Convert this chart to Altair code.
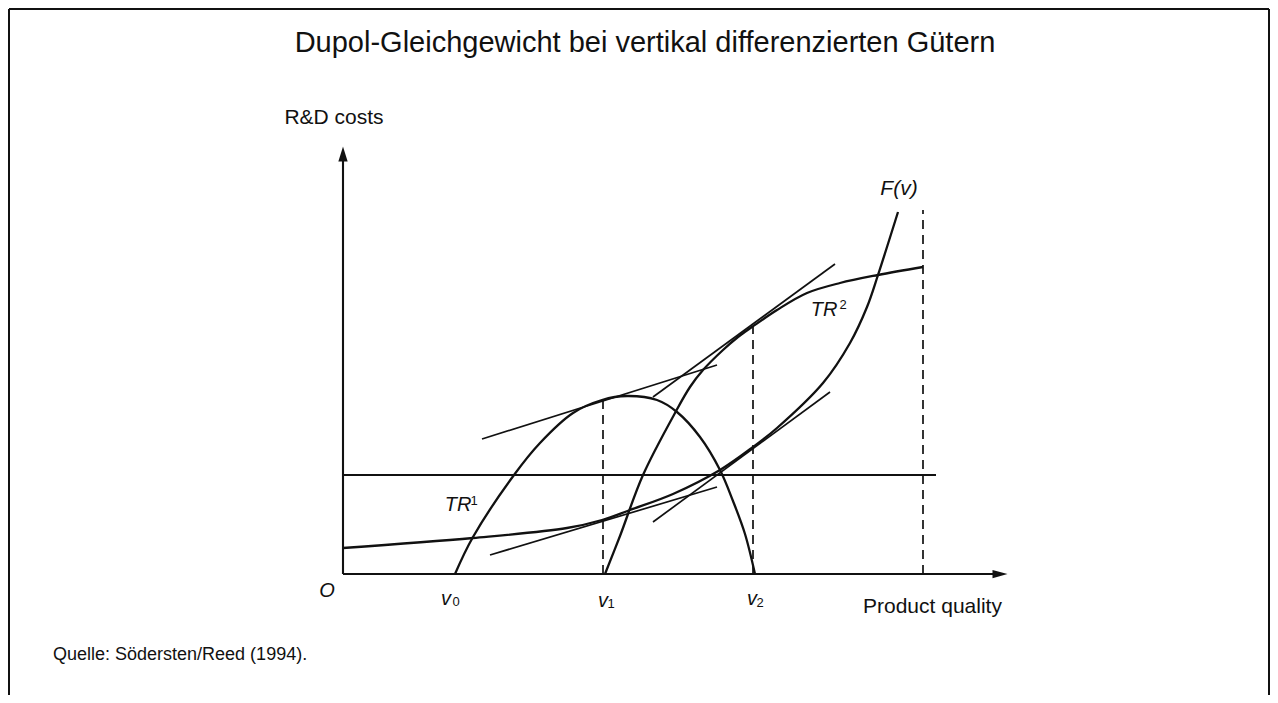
import altair as alt
import pandas as pd

FONT = "Liberation Sans"
INK = "#111111"

# ---- curves (quality, value) ----
tr1_q = [112, 130, 171, 197, 230, 259, 284, 314, 334, 357, 377, 390, 402, 412]
tr1_v = [0, 37, 99, 131, 161, 174, 178, 174, 162, 137, 104, 73, 40, 0]

tr2_q = [262, 277, 300, 332, 347, 360, 380, 395, 409, 434, 464, 497, 535, 580]
tr2_v = [0, 38, 99, 161, 187, 204, 224, 237, 247, 264, 281, 291, 299, 307]

f_q = [0, 130, 224, 259, 287, 330, 377, 410, 434, 480, 507, 524, 535, 555]
f_v = [26, 36, 46, 54, 64, 80, 104, 127, 146, 191, 231, 267, 299, 362]

# tangent lines: start (q, v), end (q, v)
tan_q1 = [139, 310, 147, 310]
tan_v1 = [135, 177, 19, 52]
tan_q2 = [374, 492, 374, 487]
tan_v2 = [209, 310, 87, 182]

# horizontal line level and extent
h_level = 99
h_end = 593

# dashed verticals: quality, top
dash_q = [260, 410, 580]
dash_top = [174, 247, 364]

# axes extents
x_axis_end = 650
y_axis_end = 420

# view extent in data units
X_MIN, X_MAX = -335, 927
Y_MIN, Y_MAX = -121, 566

xs = alt.Scale(domain=[X_MIN, X_MAX], nice=False, zero=False)
ys = alt.Scale(domain=[Y_MIN, Y_MAX], nice=False, zero=False)


def enc_xy(chart, x="x", y="y"):
    return chart.encode(
        x=alt.X(f"{x}:Q", scale=xs, axis=None),
        y=alt.Y(f"{y}:Q", scale=ys, axis=None),
    )


curves = pd.concat([
    pd.DataFrame({"x": tr1_q, "y": tr1_v, "id": "TR1"}),
    pd.DataFrame({"x": tr2_q, "y": tr2_v, "id": "TR2"}),
    pd.DataFrame({"x": f_q, "y": f_v, "id": "F"}),
])
curve_layer = enc_xy(alt.Chart(curves).mark_line(
    interpolate="catmull-rom", color=INK, strokeWidth=2.3)).encode(detail="id:N")

tangents = pd.DataFrame({"x": tan_q1, "y": tan_v1, "x2": tan_q2, "y2": tan_v2})
tan_layer = enc_xy(alt.Chart(tangents).mark_rule(color=INK, strokeWidth=1.7)).encode(
    x2="x2:Q", y2="y2:Q")

solid = pd.DataFrame({
    "x": [0, 0, 0],
    "y": [h_level, 0, 0],
    "x2": [h_end, x_axis_end, 0],
    "y2": [h_level, 0, y_axis_end],
})
solid_layer = enc_xy(alt.Chart(solid).mark_rule(color=INK, strokeWidth=2.1)).encode(
    x2="x2:Q", y2="y2:Q")

dashed = pd.DataFrame({"x": dash_q, "y": [0, 0, 0], "y2": dash_top})
dash_layer = enc_xy(alt.Chart(dashed).mark_rule(
    color=INK, strokeWidth=1.7, strokeDash=[9, 6])).encode(y2="y2:Q")

frame = pd.DataFrame({
    "x": [X_MIN + 1, X_MIN + 1, X_MAX - 1],
    "y": [Y_MIN, Y_MAX - 1, Y_MIN],
    "x2": [X_MIN + 1, X_MAX - 1, X_MAX - 1],
    "y2": [Y_MAX - 1, Y_MAX - 1, Y_MAX - 1],
})
frame_layer = enc_xy(alt.Chart(frame).mark_rule(color=INK, strokeWidth=2)).encode(
    x2="x2:Q", y2="y2:Q")

arrow_up = enc_xy(alt.Chart(pd.DataFrame({"x": [0], "y": [y_axis_end]})).mark_point(
    shape="M0,-1L0.62,1L-0.62,1Z", size=225, filled=True, color=INK, opacity=1))
arrow_right = enc_xy(alt.Chart(pd.DataFrame({"x": [x_axis_end + 7], "y": [0]})).mark_point(
    shape="M1,0L-1,-0.55L-1,0.55Z", size=225, filled=True, color=INK, opacity=1))


def text_layer(rows, size, italic=False, align="center"):
    df = pd.DataFrame(rows, columns=["x", "y", "t"])
    return enc_xy(alt.Chart(df).mark_text(
        font=FONT, fontSize=size, fontStyle="italic" if italic else "normal",
        align=align, baseline="middle", color=INK)).encode(text="t:N")


title_text = "Dupol-Gleichgewicht bei vertikal differenzierten Gütern"
source_text = "Quelle: Södersten/Reed (1994)."

labels = [
    text_layer([(302, 531, title_text)], 29),
    text_layer([(-9, 456, "R&D costs")], 21),
    text_layer([(520, -33, "Product quality")], 21, align="left"),
    text_layer([(-290, -81, source_text)], 18, align="left"),
    text_layer([(-16, -17, "O"), (103, -25, "v"), (260, -27, "v"), (409, -25, "v")], 20, italic=True),
    text_layer([(113, -28, "0"), (268, -30, "1"), (417, -29, "2")], 13),
    text_layer([(115, 69, "TR"), (481, 264, "TR")], 20, italic=True),
    text_layer([(131, 73, "1"), (500, 269, "2")], 13),
    text_layer([(556, 385, "F(v)")], 21, italic=True),
]

chart = alt.layer(
    frame_layer, solid_layer, dash_layer, tan_layer, curve_layer,
    arrow_up, arrow_right, *labels,
).properties(
    width=1262, height=687, padding=0, autosize="none", background="white",
).configure_view(stroke=None)

chart.save("out.html", embed_options={"renderer": "svg", "actions": False})
